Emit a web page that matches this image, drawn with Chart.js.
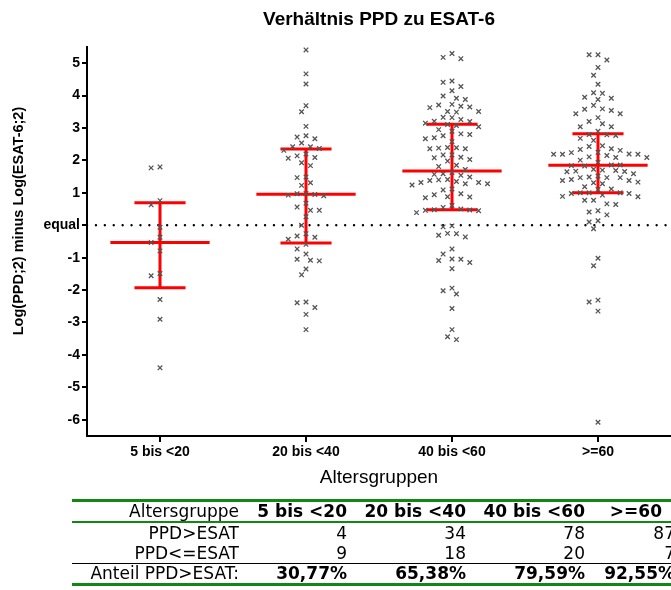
<!DOCTYPE html>
<html><head><meta charset="utf-8">
<script src="https://cdn.jsdelivr.net/npm/chart.js@4.4.1/dist/chart.umd.min.js"></script>
<style>
html,body{margin:0;padding:0;width:671px;height:590px;overflow:hidden;background:#fff;}
#c{position:absolute;left:0;top:0;}
#tbl{position:absolute;left:72px;top:499px;width:640px;}
table{border-collapse:collapse;table-layout:fixed;width:606px;font-family:"DejaVu Sans",sans-serif;font-size:17px;color:#000;}
td{padding:0 3px 0 0;text-align:right;white-space:nowrap;height:20px;line-height:20px;overflow:visible;}
tr.h td{border-top:3px solid #118811;border-bottom:2px solid #118811;height:19px;line-height:19px;}
tr.last td{border-top:1px solid #000;border-bottom:3px solid #118811;height:19px;line-height:19px;}
b{font-weight:bold;}
</style></head><body>
<canvas id="c" width="671" height="590"></canvas>
<div id="tbl"><table id="t"><colgroup><col style="width:170px"><col style="width:108px"><col style="width:119px"><col style="width:119px"><col style="width:90px"></colgroup><tbody></tbody></table></div>
<script>
const chartTitle = 'Verhältnis PPD zu ESAT-6';
const xTitle = 'Altersgruppen';
const yTitle = 'Log(PPD;2) minus Log(ESAT-6;2)';
const categories = ['5 bis <20', '20 bis <40', '40 bis <60', '>=60'];
const yTickValues = [-6, -5, -4, -3, -2, -1, 0, 1, 2, 3, 4, 5];
const zeroLabel = 'equal';

const group1 = [1.77, 1.80, 0.76, 0.63, -0.06, -0.37, -0.53, -0.79, -1.49, -1.56, -2.29, -2.90, -4.40];
const group2 = [5.41, 4.67, 4.36, 3.69, 3.50, 3.05, 2.76, 2.67, 2.54, 2.72, 2.42, 2.37, 2.42, 2.31, 2.09, 2.14, 2.20, 2.07, 1.93, 1.84, 1.47, 1.49, 1.23, 1.31, 0.97, 0.93, 0.91, 0.95, 0.98, 0.68, 0.56, 0.46, 0.46, 0.26,
  0.00, -0.33, -0.37, -0.26, -0.43, -0.59, -0.73, -0.89, -1.05, -1.10, -1.08, -1.35, -1.53, -2.39, -2.37, -2.54, -2.75, -3.22];
const group3 = [5.18, 5.14, 5.30, 4.45, 4.28, 4.41, 4.15, 3.92, 3.88, 3.99, 3.71, 3.65, 3.51, 3.49, 3.51, 3.63, 3.67, 3.73,
  3.32, 3.21, 3.15, 3.08, 3.04, 3.11, 3.20, 3.26, 3.33, 2.95, 2.82, 2.76, 2.67, 2.70, 2.80, 2.90, 2.58,
  2.39, 2.36, 2.36, 2.38, 2.40, 2.17, 2.17, 2.10, 1.98, 2.08, 2.03, 1.85, 1.81, 1.72, 1.59, 1.49, 1.41, 1.54, 1.57, 1.63,
  1.38, 1.32, 1.28, 1.24, 1.12, 1.28, 1.32, 1.35, 1.40, 1.09, 0.97, 0.87, 0.85, 0.88, 0.94, 0.61, 0.50, 0.47, 0.45, 0.39, 0.46, 0.48, 0.55,
  -0.02, -0.05, -0.25, -0.31, -0.36, -0.26, -0.73, -1.04, -1.09, -1.05, -0.89, -1.15, -1.34, -2.02, -2.12, -1.94, -2.57, -3.22, -3.53, -3.44];
const group4 = [5.26, 5.10, 5.26, 4.87, 4.63, 4.35, 4.09, 3.95, 3.88, 3.92, 4.07, 3.70, 3.58, 3.44, 3.44, 3.54, 3.59, 3.32,
  3.20, 3.04, 3.13, 3.04, 2.90, 2.80, 2.77, 2.79, 2.68, 2.62, 2.45,
  2.43, 2.34, 2.25, 2.15, 2.09, 2.20, 2.19, 2.01, 2.19, 2.19, 2.09, 2.24, 2.11, 2.31, 2.36, 1.94, 1.86, 1.83, 1.86, 1.84,
  1.70, 1.67, 1.66, 1.59, 1.65, 1.69, 1.73, 1.52, 1.47, 1.47, 1.38, 1.33, 1.28, 1.31, 1.38, 1.41, 1.47, 1.49,
  1.12, 1.00, 0.88, 1.00, 0.98, 0.93, 0.98, 1.00, 0.89, 1.10, 1.19, 0.77, 0.64, 0.66, 0.77, 0.41, 0.32, 0.45, 0.14, 0.10,
  -0.11, -1.02, -1.25, -2.37, -2.31, -2.65, -6.08];

const tableHead = 'Altersgruppe';
const tableRowLabels = ['PPD>ESAT', 'PPD<=ESAT', 'Anteil PPD>ESAT:'];

const groups = [group1, group2, group3, group4];

// ---- layout constants (styles, not data) ----
const COL = 0.0304;     // half-column step of the scatter, x units
const SAME = 0.29;      // min vertical gap in same column, y units
const NEAR = 0.17;      // min vertical gap in neighbouring half column
const MED_HALF = 0.34, CAP_HALF = 0.175;
const RED = '#ff0000';

function quantile(sorted, p) {
  const n = sorted.length;
  let pos = (n + 1) * p;
  if (pos < 1) pos = 1;
  if (pos > n) pos = n;
  const lo = Math.floor(pos), f = pos - lo;
  if (lo >= n) return sorted[n - 1];
  return sorted[lo - 1] + f * (sorted[lo] - sorted[lo - 1]);
}
function swarm(vals, center) {
  const idx = vals.map((v, i) => i).sort((a, b) => vals[b] - vals[a] || a - b);
  const placed = [], pts = [];
  for (const i of idx) {
    const y = vals[i];
    for (let s = 0; ; s++) {
      const k = s === 0 ? 0 : (s % 2 ? -Math.ceil(s / 2) : Math.ceil(s / 2));
      const clash = placed.some(p => {
        const dk = Math.abs(p.k - k), dy = Math.abs(p.y - y);
        return (dk === 0 && dy < SAME) || (dk === 1 && dy < NEAR);
      });
      if (!clash) { placed.push({ k, y }); pts.push({ x: center + k * COL, y }); break; }
    }
  }
  return pts;
}

const datasets = [];
groups.forEach((vals, gi) => {
  datasets.push({
    type: 'scatter', data: swarm(vals, gi + 1), pointStyle: 'crossRot', pointRadius: 3.2,
    borderColor: '#555', backgroundColor: '#555', borderWidth: 1.3
  });
});
function seg(x1, x2, y1, y2) {
  return { type: 'line', data: [{ x: x1, y: y1 }, { x: x2, y: y2 }], borderColor: RED, borderWidth: 3,
    pointRadius: 0, borderCapStyle: 'butt', tension: 0 };
}
groups.forEach((vals, gi) => {
  const c = gi + 1;
  const s = [...vals].sort((a, b) => a - b);
  const med = quantile(s, 0.5), q1 = quantile(s, 0.25), q3 = quantile(s, 0.75);
  datasets.push(seg(c - MED_HALF, c + MED_HALF, med, med));
  datasets.push(seg(c - CAP_HALF, c + CAP_HALF, q3, q3));
  datasets.push(seg(c - CAP_HALF, c + CAP_HALF, q1, q1));
  datasets.push(seg(c, c, q1, q3));
});
datasets.push({
  type: 'line', data: [{ x: 0.5, y: 0 }, { x: 4.5, y: 0 }], borderColor: '#000', borderWidth: 2.3,
  borderDash: [0.1, 8.8], borderDashOffset: 0, borderCapStyle: 'round', pointRadius: 0
});

const yTitlePlugin = {
  id: 'yTitle',
  afterDraw(chart) {
    const ctx = chart.ctx;
    ctx.save();
    ctx.fillStyle = '#000';
    ctx.font = 'bold 14.5px "Liberation Sans", Arial, sans-serif';
    ctx.textAlign = 'center';
    ctx.textBaseline = 'middle';
    ctx.translate(19, 221);
    ctx.rotate(-Math.PI / 2);
    ctx.fillText(yTitle, 0, 0);
    ctx.restore();
  }
};

Chart.defaults.font.family = '"Liberation Sans", Arial, sans-serif';
const gridOpts = { display: true, drawOnChartArea: false, drawTicks: true, color: '#000', lineWidth: 2 };
new Chart(document.getElementById('c'), {
  data: { datasets },
  plugins: [yTitlePlugin],
  options: {
    responsive: false, animation: false, events: [],
    layout: { autoPadding: false, padding: { left: 0, right: 0, top: 0, bottom: 100.5 } },
    plugins: {
      legend: { display: false }, tooltip: { enabled: false },
      title: { display: true, text: chartTitle, fullSize: false, color: '#000',
        font: { size: 19, weight: 'bold' }, padding: { top: 8, bottom: 16.2 } }
    },
    scales: {
      x: {
        type: 'linear', min: 0.5, max: 4.5,
        afterBuildTicks: s => { s.ticks = categories.map((c, i) => ({ value: i + 1 })); },
        afterFit: s => { s.paddingRight = 0; s.paddingLeft = 0; },
        ticks: { callback: v => categories[v - 1], font: { size: 14, weight: 'bold' }, color: '#000', padding: 2, maxRotation: 0, autoSkip: false },
        grid: Object.assign({}, gridOpts, { tickLength: 6 }),
        border: { display: true, color: '#000', width: 2 },
        title: { display: true, text: xTitle, color: '#000', font: { size: 19 }, padding: { top: 4, bottom: 0 } }
      },
      y: {
        type: 'linear', min: -6.5, max: 5.5,
        afterBuildTicks: s => { s.ticks = yTickValues.map(v => ({ value: v })); },
        afterFit: s => { s.width = 87; },
        ticks: { callback: v => (v === 0 ? zeroLabel : String(v)), font: { size: 14, weight: 'bold' }, color: '#000', padding: 2 },
        grid: Object.assign({}, gridOpts, { tickLength: 5 }),
        border: { display: true, color: '#000', width: 2 }
      }
    }
  }
});

// ---- table ----
const pos = groups.map(g => g.filter(v => v > 0).length);
const neg = groups.map(g => g.filter(v => v <= 0).length);
const share = groups.map((g, i) => (pos[i] / g.length * 100).toFixed(2).replace('.', ',') + '%');
const esc = s => s.replace(/&/g, '&amp;').replace(/</g, '&lt;').replace(/>/g, '&gt;');
const tb = document.querySelector('#t tbody');
const rows = [
  ['h', tableHead, categories, true],
  ['', tableRowLabels[0], pos.map(String), false],
  ['', tableRowLabels[1], neg.map(String), false],
  ['last', tableRowLabels[2], share, true]
];
rows.forEach(([cls, label, vals, bold]) => {
  const tr = document.createElement('tr');
  if (cls) tr.className = cls;
  let html = '<td>' + esc(label) + '</td>';
  vals.forEach((v, i) => {
    const style = (cls === 'h' && i === 3) ? ' style="padding-right:16px"' : '';
    html += '<td' + style + '>' + (bold ? '<b>' + esc(v) + '</b>' : esc(v)) + '</td>';
  });
  tr.innerHTML = html;
  tb.appendChild(tr);
});
</script>
</body></html>
